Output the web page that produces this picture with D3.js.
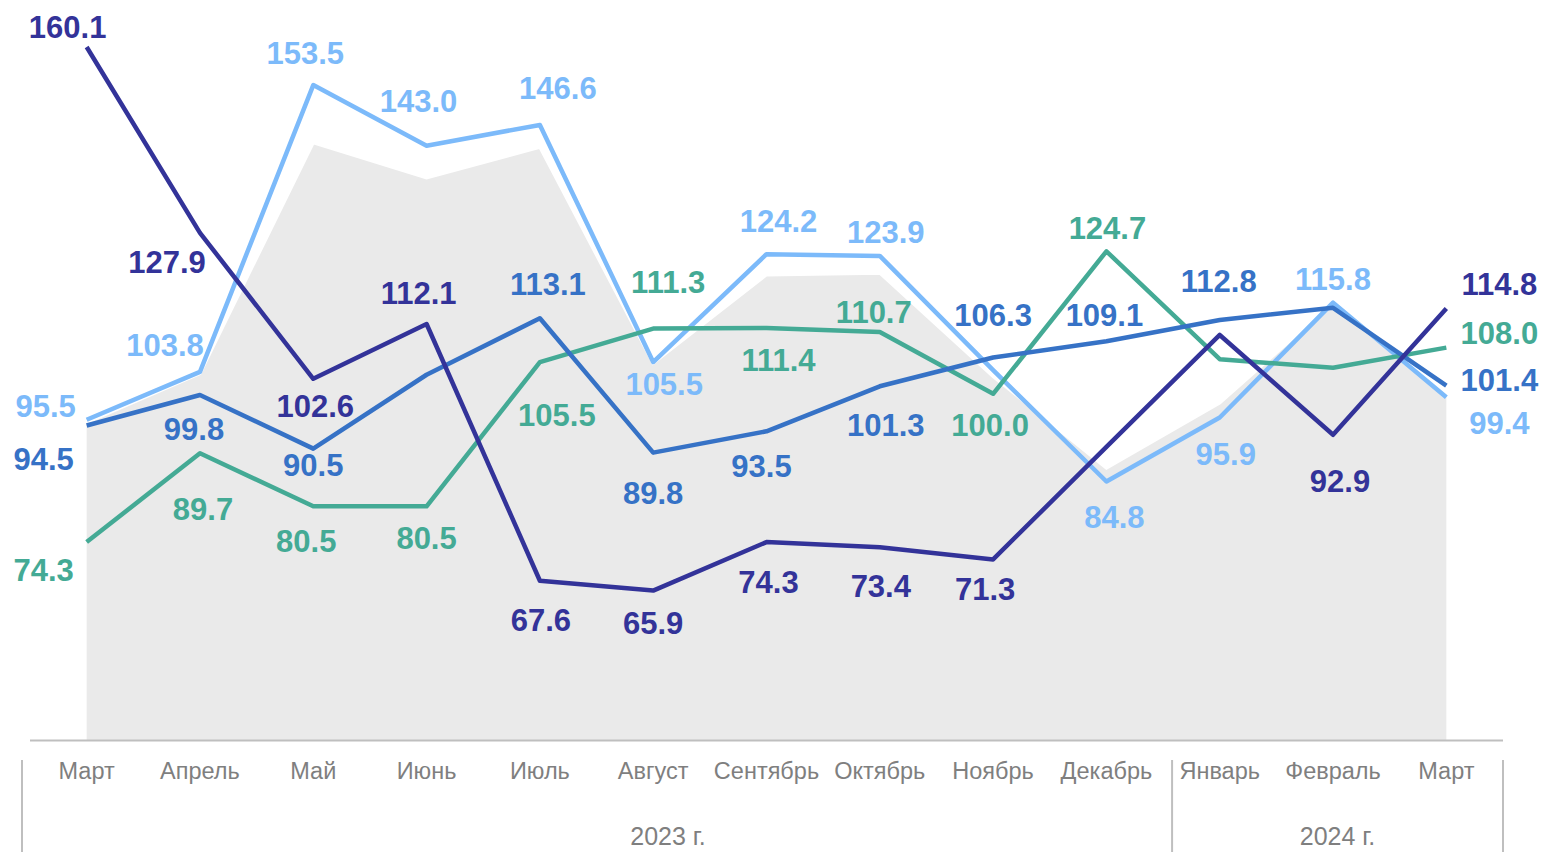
<!DOCTYPE html>
<html lang="ru">
<head>
<meta charset="utf-8">
<title>D3: индексы по месяцам</title>
<script src="https://cdn.jsdelivr.net/npm/d3@7"></script>
<style>
  body { margin: 0; background: #fff; }
  .lbl { font-family: "Liberation Sans", Arial, sans-serif; font-weight: bold; font-size: 31px; }
  .cat { font-family: "Liberation Sans", Arial, sans-serif; font-size: 23.5px; fill: #7f7f7f; }
  .yr  { font-family: "Liberation Sans", Arial, sans-serif; font-size: 25px; fill: #7f7f7f; }
</style>
</head>
<body>
<div id="chart"></div>
<script>
// categories
var months = ["Март", "Апрель", "Май", "Июнь", "Июль", "Август", "Сентябрь",
              "Октябрь", "Ноябрь", "Декабрь", "Январь", "Февраль", "Март"]
var years = ["2023 г.", "2024 г."]
var yearFirst = [0, 10]
var yearLast = [9, 12]

// series values
var navyVals  = [160.1, 127.9, 102.6, 112.1, 67.6, 65.9, 74.3, 73.4, 71.3, 90.8, 110.2, 92.9, 114.8]
var blueVals  = [94.5, 99.8, 90.5, 103.3, 113.1, 89.8, 93.5, 101.3, 106.3, 109.1, 112.8, 114.9, 101.4]
var lightVals = [95.5, 103.8, 153.5, 143.0, 146.6, 105.5, 124.2, 123.9, 104.1, 84.8, 95.9, 115.8, 99.4]
var greenVals = [74.3, 89.7, 80.5, 80.5, 105.5, 111.3, 111.4, 110.7, 100.0, 124.7, 106.0, 104.5, 108.0]
var greyVals  = [95.0, 103.5, 143.5, 137.4, 142.7, 105.3, 120.6, 120.9, 103.0, 87.1, 98.4, 115.8, 99.4]

// where each value label sits relative to its point (null = no label)
var navyLbl  = [[-19,-20],[-33,29],[2,27],[-8,-31],[1,39],[0,32],[2,40],[1,39],[-8,30],null,null,[7,46],[53,-24]]
var blueLbl  = [[-43,33],[-6,34],[0,16],null,[8,-34],[0,40],[-5,35],[6,39],[0,-42],[-2,-26],[-1,-39],null,[53,-6]]
var lightLbl = [[-41,-14],[-35,-27],[-8,-32],[-8,-45],[18,-37],[11,22],[12,-33],[6,-24],null,[8,35],[6,37],[0,-24],[53,26]]
var greenLbl = [[-43,28],[3,56],[-7,35],[0,32],[17,53],[15,-47],[12,32],[-6,-20],[-3,31],[1,-23],null,null,[53,-15]]

var w = 1547
var h = 852

var svg = d3.select("#chart")
            .append("svg")
            .attr("width", w)
            .attr("height", h)

var xScale = d3.scaleBand()
               .domain(d3.range(months.length))
               .range([30, 1503])
               .padding(0)

function xc(i) { return xScale(i) + xScale.bandwidth() / 2 }

var yScale = d3.scaleLinear()
               .domain([40, 160])
               .range([740, 47.6])

// grey background area
var area = d3.area()
             .x(function(d, i) { return xc(i) })
             .y0(yScale(40))
             .y1(function(d) { return yScale(d) })

svg.append("path")
   .attr("d", area(greyVals))
   .style("fill", "#eaeaea")

var line = d3.line()
             .x(function(d, i) { return xc(i) })
             .y(function(d) { return yScale(d) })

svg.append("path")
   .attr("d", line(greyVals))
   .style("fill", "none")
   .style("stroke", "#fff")
   .style("stroke-width", 3)

var series = [
  { vals: lightVals, lbl: lightLbl, color: "#7cbafa" },
  { vals: greenVals, lbl: greenLbl, color: "#44aa95" },
  { vals: blueVals,  lbl: blueLbl,  color: "#3672c6" },
  { vals: navyVals,  lbl: navyLbl,  color: "#333399" }
]

series.forEach(function(s) {
  svg.append("path")
     .attr("d", line(s.vals))
     .style("fill", "none")
     .style("stroke", s.color)
     .style("stroke-width", 4.5)
     .style("stroke-linejoin", "round")
})

// x axis line
svg.append("line")
   .attr("x1", xScale.range()[0])
   .attr("x2", xScale.range()[1])
   .attr("y1", 740.5)
   .attr("y2", 740.5)
   .style("stroke", "#bfbfbf")
   .style("stroke-width", 2)

// value labels
series.forEach(function(s) {
  svg.selectAll(null)
     .data(s.vals.map(function(v, i) { return { v: v, i: i, off: s.lbl[i] } })
                 .filter(function(d) { return d.off }))
     .enter()
     .append("text")
     .attr("class", "lbl")
     .attr("text-anchor", "middle")
     .attr("x", function(d) { return xc(d.i) + d.off[0] })
     .attr("y", function(d) { return yScale(d.v) + d.off[1] + 11 })
     .style("fill", s.color)
     .text(function(d) { return d.v.toFixed(1) })
})

// month labels
svg.selectAll(".cat")
   .data(months)
   .enter()
   .append("text")
   .attr("class", "cat")
   .attr("text-anchor", "middle")
   .attr("x", function(d, i) { return xc(i) })
   .attr("y", 779)
   .text(function(d) { return d })

// group separators
var sepX = [xScale(0) - 8, xScale(10) + 9, xScale.range()[1]]
svg.selectAll(".sep")
   .data(sepX)
   .enter()
   .append("line")
   .attr("class", "sep")
   .attr("x1", function(d) { return d })
   .attr("x2", function(d) { return d })
   .attr("y1", 760)
   .attr("y2", h)
   .style("stroke", "#bfbfbf")
   .style("stroke-width", 2)

// year labels
var yearShift = [71, 0]
svg.selectAll(".yr")
   .data(years)
   .enter()
   .append("text")
   .attr("class", "yr")
   .attr("text-anchor", "middle")
   .attr("x", function(d, i) { return (sepX[i] + sepX[i + 1]) / 2 + yearShift[i] })
   .attr("y", 845)
   .text(function(d) { return d })
</script>
</body>
</html>
